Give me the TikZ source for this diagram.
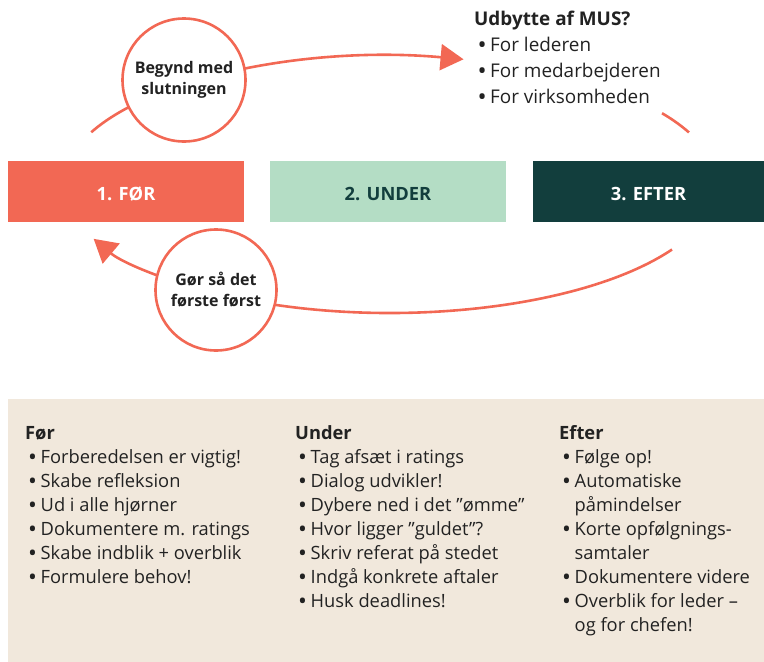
\documentclass[tikz,border=0pt]{standalone}
\usepackage{fontspec}
\setmainfont{Open Sans}
\usetikzlibrary{arrows.meta}

\definecolor{coral}{RGB}{242,104,84}
\definecolor{mint}{RGB}{180,221,197}
\definecolor{pine}{RGB}{18,62,61}
\definecolor{sand}{RGB}{241,232,220}
\definecolor{ink}{RGB}{34,34,34}

% bullet item and continuation line for the lists
\newcommand\bitem[1]{\makebox[11.5pt][l]{\textbf{•}}#1}
\newcommand\bcont[1]{\hspace*{11.5pt}#1}

\tikzset{
  phase/.style={minimum height=61pt, inner sep=0pt, text height=17pt, text depth=0pt,
    font=\fontsize{18.3}{22}\selectfont\bfseries},
  bubble/.style={circle, draw=coral, line width=2.6pt, fill=white, inner sep=0pt,
    align=center, text=ink, font=\fontsize{16}{21}\selectfont\bfseries},
  cycle/.style={draw=coral, line width=2.6pt},
  tipped/.style={cycle, -{Triangle[length=23pt, width=26pt]}},
  listtext/.style={anchor=base west, inner sep=0pt, text=ink},
}

\begin{document}
\begin{tikzpicture}[x=1pt, y=-1pt]
\useasboundingbox (0,0) rectangle (764,662);

% cycle arrows, traced on one ellipse around the three phases
\coordinate (ctr) at (390,184.5);
\coordinate (topstart) at ({390+327*cos(-156)},{184.5+128.5*sin(-156)});
\coordinate (rightstart) at ({390+327*cos(-33.7)},{184.5+128.5*sin(-33.7)});
\coordinate (lowstart) at ({390+327*cos(30.4)},{184.5+128.5*sin(30.4)});
\draw[tipped] (topstart) arc[start angle=-156, end angle=-77, x radius=327, y radius=128.5];
\draw[cycle] (rightstart) arc[start angle=-33.7, end angle=-23.9, x radius=327, y radius=128.5];
\draw[tipped] (lowstart) arc[start angle=30.4, end angle=155, x radius=327, y radius=128.5];

% phases
\node[phase, fill=coral, text=white, minimum width=236pt] (p1) at (126,191.5) {1. FØR};
\node[phase, fill=mint, text=pine, minimum width=236pt] (p2) at (388,191.5) {2. UNDER};
\node[phase, fill=pine, text=white, minimum width=231pt] (p3) at (648.5,191.5) {3. EFTER};

% bubbles on the cycle
\node[bubble, minimum size=123pt] (begin) at (184,80) {Begynd med\\slutningen};
\node[bubble, minimum size=121pt] (first) at (216,290) {Gør så det\\første først};

% outcome list
\node[listtext] (gain) at (474,25) {\parbox[t]{280pt}{\fontsize{18.9}{26.3}\selectfont
  \textbf{Udbytte af MUS?}\\
  \hspace*{4.5pt}\bitem{For lederen}\\
  \hspace*{4.5pt}\bitem{For medarbejderen}\\
  \hspace*{4.5pt}\bitem{For virksomheden}}};

% bottom panel with the three checklists
\fill[sand] (8,399) rectangle (764,662);

\node[listtext] (before) at (25,439) {\parbox[t]{260pt}{\fontsize{18.3}{24}\selectfont
  \textbf{Før}\\
  \hspace*{4pt}\bitem{Forberedelsen er vigtig!}\\
  \hspace*{4pt}\bitem{Skabe refleksion}\\
  \hspace*{4pt}\bitem{Ud i alle hjørner}\\
  \hspace*{4pt}\bitem{Dokumentere m. ratings}\\
  \hspace*{4pt}\bitem{Skabe indblik + overblik}\\
  \hspace*{4pt}\bitem{Formulere behov!}}};

\node[listtext] (during) at (295,439) {\parbox[t]{260pt}{\fontsize{18.3}{24}\selectfont
  \textbf{Under}\\
  \hspace*{4pt}\bitem{Tag afsæt i ratings}\\
  \hspace*{4pt}\bitem{Dialog udvikler!}\\
  \hspace*{4pt}\bitem{Dybere ned i det ”ømme”}\\
  \hspace*{4pt}\bitem{Hvor ligger ”guldet”?}\\
  \hspace*{4pt}\bitem{Skriv referat på stedet}\\
  \hspace*{4pt}\bitem{Indgå konkrete aftaler}\\
  \hspace*{4pt}\bitem{Husk deadlines!}}};

\node[listtext] (after) at (559,439) {\parbox[t]{200pt}{\fontsize{18.3}{24}\selectfont
  \textbf{Efter}\\
  \hspace*{4pt}\bitem{Følge op!}\\
  \hspace*{4pt}\bitem{Automatiske}\\
  \hspace*{4pt}\bcont{påmindelser}\\
  \hspace*{4pt}\bitem{Korte opfølgnings-}\\
  \hspace*{4pt}\bcont{samtaler}\\
  \hspace*{4pt}\bitem{Dokumentere videre}\\
  \hspace*{4pt}\bitem{Overblik for leder –}\\
  \hspace*{4pt}\bcont{og for chefen!}}};
\end{tikzpicture}
\end{document}
